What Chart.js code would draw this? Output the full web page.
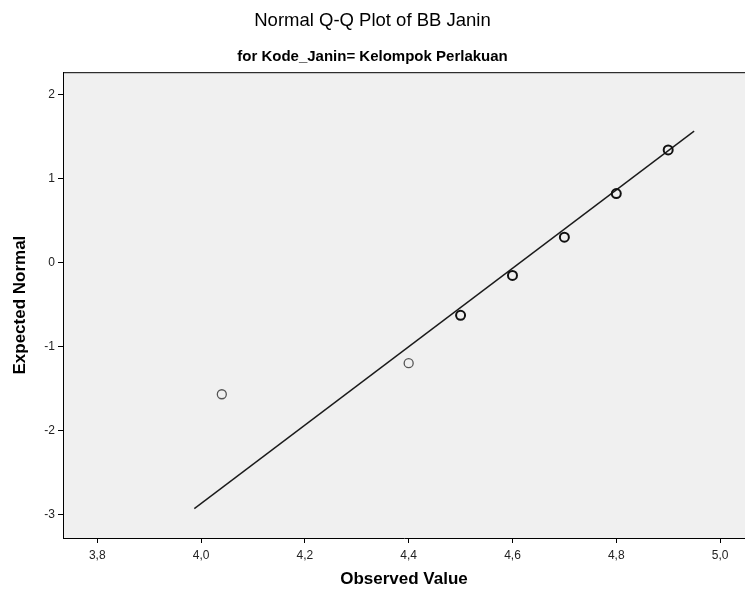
<!DOCTYPE html>
<html lang="en">
<head>
  <meta charset="UTF-8" />
  <title>Normal Q-Q Plot of BB Janin</title>
  <script src="https://cdn.jsdelivr.net/npm/chart.js"></script>
  <style>
    html, body { margin: 0; padding: 0; background: #fff; }
    #wrap { width: 745px; height: 596px; }
  </style>
</head>
<body>
  <div id="wrap"><canvas id="qq"></canvas></div>

  <script>
    const observed = [4.04, 4.40, 4.50, 4.60, 4.70, 4.80, 4.90];
    const expected = [-1.57, -1.20, -0.63, -0.155, 0.30, 0.82, 1.34];
    // number of cases sitting on each point (ties draw a heavier ring)
    const caseCount = [1, 1, 2, 2, 2, 2, 2];

    // reference line end points
    const lineX = [3.987, 4.950];
    const lineY = [-2.932, 1.563];

    const xTicks = [3.8, 4.0, 4.2, 4.4, 4.6, 4.8, 5.0];
    const yTicks = [-3, -2, -1, 0, 1, 2];

    const FONT = "'Liberation Sans', Arial, sans-serif";

    const plotFrame = {
      id: 'plotFrame',
      beforeDraw(chart) {
        const { ctx, chartArea: a } = chart;
        ctx.save();
        ctx.fillStyle = '#f0f0f0';
        ctx.fillRect(a.left, a.top, a.right - a.left, a.bottom - a.top);
        ctx.restore();
      },
      afterDraw(chart) {
        const { ctx, chartArea: a } = chart;
        ctx.save();
        ctx.strokeStyle = '#000';
        ctx.lineWidth = 1;
        ctx.beginPath();
        ctx.moveTo(a.left, a.top + 0.5);
        ctx.lineTo(a.right, a.top + 0.5);
        ctx.stroke();
        ctx.restore();
      }
    };

    const fmt = v => v.toFixed(1).replace('.', ',');

    new Chart(document.getElementById('qq'), {
      type: 'scatter',
      data: {
        datasets: [
          {
            label: 'Observed',
            data: observed.map((x, i) => ({ x, y: expected[i] })),
            pointRadius: 4.5,
            pointHoverRadius: 4.5,
            backgroundColor: 'rgba(0,0,0,0)',
            borderColor: caseCount.map(n => n > 1 ? '#111' : '#555'),
            pointBorderWidth: caseCount.map(n => n > 1 ? 2 : 1.3)
          },
          {
            type: 'line',
            label: 'Line',
            data: lineX.map((x, i) => ({ x, y: lineY[i] })),
            borderColor: '#1a1a1a',
            borderWidth: 1.4,
            pointRadius: 0,
            fill: false
          }
        ]
      },
      options: {
        responsive: true,
        maintainAspectRatio: false,
        animation: false,
        events: [],
        layout: { padding: 0, autoPadding: false },
        plugins: {
          legend: { display: false },
          tooltip: { enabled: false },
          title: {
            display: true,
            text: 'Normal Q-Q Plot of BB Janin',
            color: '#000',
            font: { family: FONT, size: 18.5, weight: 'normal' },
            padding: { top: 10, bottom: 10 }
          },
          subtitle: {
            display: true,
            text: 'for Kode_Janin= Kelompok Perlakuan',
            color: '#000',
            font: { family: FONT, size: 15, weight: 'bold' },
            padding: { top: 6, bottom: 6 }
          }
        },
        scales: {
          x: {
            type: 'linear',
            min: 3.734,
            max: 5.048,
            afterBuildTicks: s => { s.ticks = xTicks.map(value => ({ value })); },
            afterFit: s => { s.height = 58; s.paddingLeft = 0; s.paddingRight = 0; },
            ticks: { callback: fmt, color: '#222', padding: 5, font: { family: FONT, size: 12 } },
            grid: { drawOnChartArea: false, color: '#000', tickLength: 5 },
            border: { display: true, color: '#000', width: 1 },
            title: {
              display: true,
              text: 'Observed Value',
              color: '#000',
              font: { family: FONT, size: 17, weight: 'bold' },
              padding: { top: 0, bottom: 6 }
            }
          },
          y: {
            type: 'linear',
            min: -3.282,
            max: 2.265,
            afterBuildTicks: s => { s.ticks = yTicks.map(value => ({ value })); },
            afterFit: s => { s.width = 63; s.paddingTop = 0; s.paddingBottom = 0; },
            ticks: { color: '#222', padding: 3, font: { family: FONT, size: 12 } },
            grid: { drawOnChartArea: false, color: '#000', tickLength: 5 },
            border: { display: true, color: '#000', width: 1 },
            title: {
              display: true,
              text: 'Expected Normal',
              color: '#000',
              font: { family: FONT, size: 17, weight: 'bold' },
              padding: { top: 10, bottom: 0 }
            }
          }
        }
      },
      plugins: [plotFrame]
    });
  </script>
</body>
</html>
